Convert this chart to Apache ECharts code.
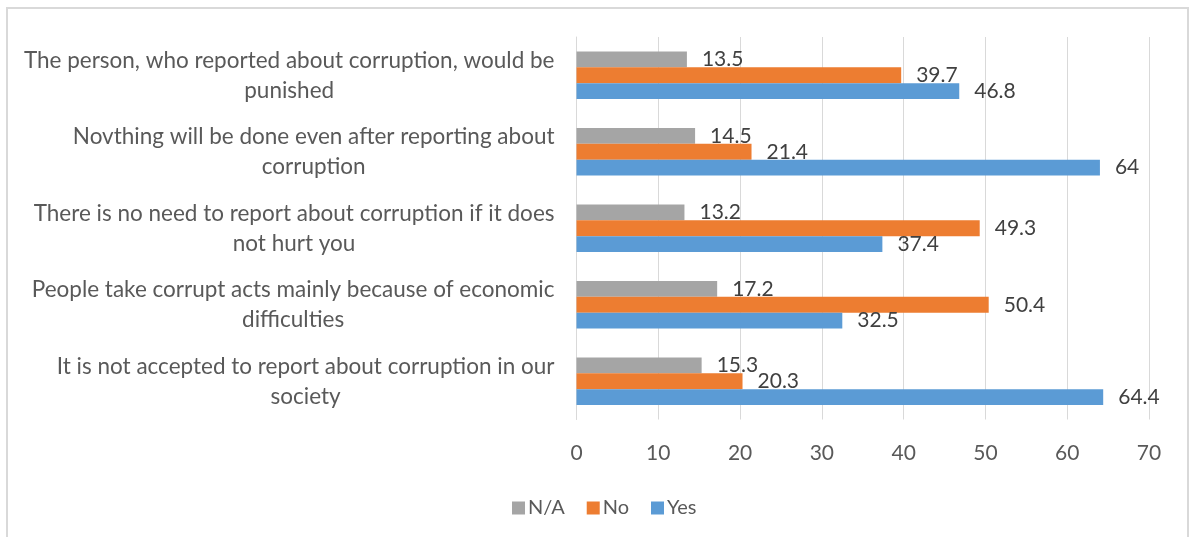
<!DOCTYPE html>
<html>
<head>
<meta charset="utf-8">
<script src="https://cdn.jsdelivr.net/npm/echarts@6/dist/echarts.min.js"></script>
<style>
  html, body { margin: 0; padding: 0; background: #fff; }
  #chart { width: 1190px; height: 537px; }
</style>
</head>
<body>
<div id="chart"></div>
<script>
// Survey statements, listed bottom to top as they sit on the category axis
const categories = [
  'It is not accepted to report about corruption in our\nsociety',
  'People take corrupt acts mainly because of economic\ndifficulties',
  'There is no need to report about corruption if it does\nnot hurt you',
  'Novthing will be done even after reporting about\ncorruption',
  'The person, who reported about corruption, would be\npunished'
];
const naValues  = [15.3, 17.2, 13.2, 14.5, 13.5];
const noValues  = [20.3, 50.4, 49.3, 21.4, 39.7];
const yesValues = [64.4, 32.5, 37.4, 64, 46.8];
const xTicks = { min: 0, max: 70, interval: 10 };

const FONT = 'Lato, "Liberation Sans", sans-serif';
const labelStyle = {
  show: true,
  position: 'right',
  distance: 15,
  color: '#404040',
  fontFamily: FONT,
  fontSize: 21
};

function makeSeries(name, data, color) {
  return {
    name: name,
    type: 'bar',
    data: data,
    barGap: '0%',
    barCategoryGap: '38%',
    itemStyle: { color: color },
    label: labelStyle,
    emphasis: { disabled: true }
  };
}

const chart = echarts.init(document.getElementById('chart'), null, { renderer: 'canvas' });
chart.setOption({
  animation: false,
  backgroundColor: '#fff',
  textStyle: { fontFamily: FONT },
  graphic: [{
    type: 'rect',
    shape: { x: 7, y: 8, width: 1181, height: 545 },
    style: { fill: 'none', stroke: '#D9D9D9', lineWidth: 2 },
    silent: true,
    z: -1
  }],
  grid: { left: 576.5, right: 41, top: 37, bottom: 117.5, containLabel: false },
  legend: {
    data: ['N/A', 'No', 'Yes'],
    left: 507,
    top: 493,
    icon: 'rect',
    itemWidth: 13,
    itemHeight: 13,
    itemGap: 22,
    textStyle: { color: '#595959', fontSize: 20, fontFamily: FONT, padding: [0, 0, 0, -2] }
  },
  xAxis: {
    type: 'value',
    min: xTicks.min,
    max: xTicks.max,
    interval: xTicks.interval,
    axisLine: { show: false },
    axisTick: { show: false },
    axisLabel: { color: '#595959', fontSize: 21, fontFamily: FONT, margin: 23 },
    splitLine: { show: true, lineStyle: { color: '#D9D9D9', width: 1 } }
  },
  yAxis: {
    type: 'category',
    data: categories,
    axisLine: { show: true, lineStyle: { color: '#D9D9D9', width: 1 } },
    axisTick: { show: false },
    axisLabel: {
      color: '#595959',
      fontSize: 22.5,
      fontFamily: FONT,
      margin: 22,
      align: 'right',
      lineHeight: 30,
      formatter: function (v) {
        return v.split('\n').map(function (l) { return '{c|' + l + '}'; }).join('\n');
      },
      rich: {
        c: { align: 'center', color: '#595959', fontSize: 22.5, fontFamily: FONT, lineHeight: 30 }
      }
    }
  },
  series: [
    makeSeries('N/A', naValues, '#A5A5A5'),
    makeSeries('No', noValues, '#ED7D31'),
    makeSeries('Yes', yesValues, '#5B9BD5')
  ]
});
</script>
</body>
</html>
